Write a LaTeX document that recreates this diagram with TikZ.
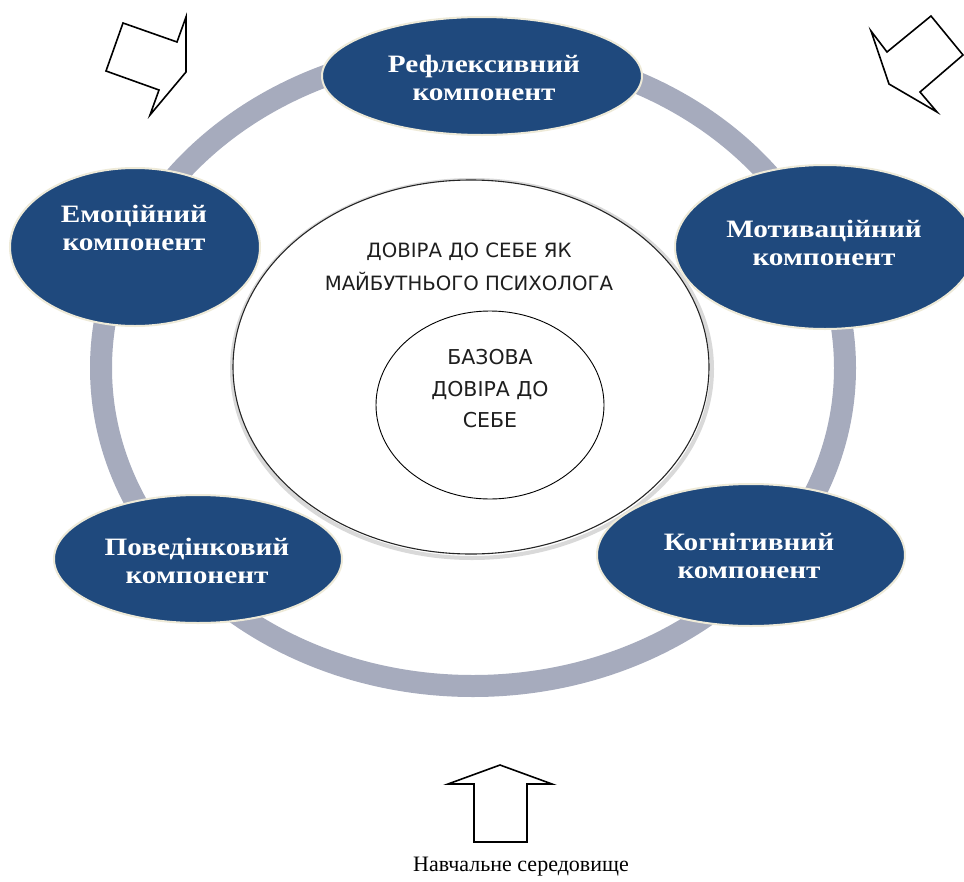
\documentclass[tikz,border=0pt]{standalone}
\usepackage{fontspec}
\setmainfont{Liberation Serif}
\newfontfamily\gothic{DejaVu Sans}
\newfontfamily\compfont[FakeStretch=1.17]{Liberation Serif Bold}
\usetikzlibrary{shapes.geometric}
\definecolor{compblue}{RGB}{31,73,125}
\definecolor{ringgray}{RGB}{166,171,189}
\definecolor{creamedge}{RGB}{238,234,216}
\definecolor{captext}{RGB}{30,30,30}
\begin{document}
\begin{tikzpicture}[x=1pt,y=-1pt,
  comp/.style={ellipse, fill=compblue, draw=creamedge, line width=2pt, inner sep=0pt},
  comptext/.style={text=white, font=\compfont\fontsize{25}{28}\selectfont, align=center, inner sep=0pt},
  centertext/.style={text=captext, font=\gothic\fontsize{19.7}{33}\selectfont, align=center, inner sep=0pt},
  innertext/.style={text=captext, font=\gothic\fontsize{20.5}{31.5}\selectfont, align=center, inner sep=0pt},
  arrowline/.style={draw=black, line width=1.6pt, line join=miter, fill=white}]
\useasboundingbox (0,0) rectangle (964,881);
\fill[white] (0,0) rectangle (964,881);
% ring
\draw[ringgray, line width=22pt] (473,368) ellipse [x radius=372, y radius=318];
% outer white ellipse with a faint shadow
\draw[black!15, line width=4pt] (472,369) ellipse [x radius=240, y radius=189];
\node[ellipse, minimum width=476pt, minimum height=374pt, fill=white, draw=black!85, line width=1.1pt, inner sep=0pt] (outer) at (471,367) {};
% inner circle
\node[ellipse, minimum width=228pt, minimum height=188pt, draw=black, line width=0.9pt, inner sep=0pt] (inner) at (490,405) {};
% component ellipses
\node[comp, minimum width=320pt, minimum height=118pt] (refl) at (482,76) {};
\node[comp, minimum width=250pt, minimum height=158pt] (emo) at (135,247) {};
\node[comp, minimum width=300pt, minimum height=164pt] (motiv) at (825,247) {};
\node[comp, minimum width=288pt, minimum height=128pt] (poved) at (198,559) {};
\node[comp, minimum width=308pt, minimum height=142pt] (kogn) at (751,555) {};
\node[comptext] (reflT) at (484,78) {Рефлексивний\\компонент};
\node[comptext] (emoT) at (134,228) {Емоційний\\компонент};
\node[comptext] (motivT) at (824,243) {Мотиваційний\\компонент};
\node[comptext] (povedT) at (197,561) {Поведінковий\\компонент};
\node[comptext] (kognT) at (749,556) {Когнітивний\\компонент};
% centre texts
\node[centertext] (selfT) at (469,267) {ДОВІРА ДО СЕБЕ ЯК\\МАЙБУТНЬОГО ПСИХОЛОГА};
\node[innertext] (baseT) at (490,389) {БАЗОВА\\ДОВІРА ДО\\СЕБЕ};
% arrows
\draw[arrowline] (123,23) -- (177,42) -- (186,17) -- (186,72) -- (150,115) -- (159,90) -- (106,71) -- cycle;
\draw[arrowline] (931,16) -- (963,55) -- (920,92) -- (937,112) -- (889,84) -- (871,31) -- (887,52) -- cycle;
\draw[arrowline] (500,765) -- (552,784) -- (527,784) -- (527,842) -- (474,842) -- (474,784) -- (448,784) -- cycle;
\node[font=\fontsize{22}{26}\selectfont, inner sep=0pt] (envT) at (521,867) {Навчальне середовище};
\end{tikzpicture}
\end{document}
